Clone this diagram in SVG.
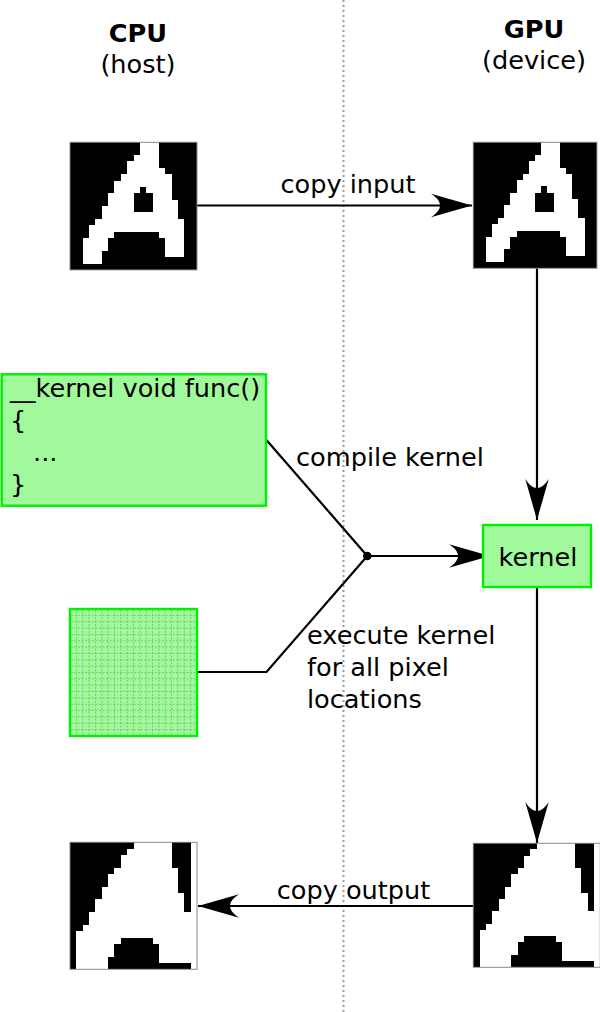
<svg xmlns="http://www.w3.org/2000/svg" xmlns:xlink="http://www.w3.org/1999/xlink" width="600" height="1012" viewBox="0 0 600 1012">
<style>
text{font-family:"DejaVu Sans","Liberation Sans",sans-serif;font-size:25.6px;fill:#000}
.b{font-weight:bold}
.mid{text-anchor:middle}
.box{fill:#a0fa9b;stroke:#00f000;stroke-width:2.4}
.wire{fill:none;stroke:#000;stroke-width:2.2}
.arr{marker-end:url(#ah)}
.grid line{stroke:#5a9a5a;stroke-width:0.7;stroke-dasharray:2 1.5;opacity:0.75}
.frame{fill:none;stroke:#888;stroke-width:1}
</style>
<defs>
<marker id="ah" markerUnits="userSpaceOnUse" viewBox="-43 -13 45 26" markerWidth="45" markerHeight="26" refX="0" refY="0" orient="auto">
<path d="M0,0 L-41,-11.7 C-29,-4 -29,4 -41,11.7 Z" fill="#000"/>
</marker>
<g id="glyphIn" shape-rendering="crispEdges">
<rect x="0" y="0" width="20" height="20" fill="#000"/>
<path fill="#fff" d="M11,0h3v2h-3z M10,2h4v1h-4z M9,3h5v1h-5z M9,4h6v1h-6z M8,5h8v1h-8z M7,6h9v1h-9z M7,7h4v1h-4z M12,7h4v1h-4z M6,8h4v2h-4z M13,8h3v1h-3z M13,9h4v2h-4z M5,10h5v1h-5z M5,11h12v1h-12z M4,12h14v1h-14z M3,13h15v1h-15z M3,14h4v1h-4z M14,14h4v1h-4z M2,15h4v2h-4z M15,15h3v3h-3z M2,17h3v2h-3z"/>
</g>
<g id="glyphOut" shape-rendering="crispEdges">
<rect x="0" y="0" width="20" height="20" fill="#fff"/>
<path fill="#000" d="M0,0h10v1h-10z M0,1h9v1h-9z M0,2h8v2h-8z M0,4h7v1h-7z M0,5h6v2h-6z M0,7h5v2h-5z M0,9h4v2h-4z M0,11h3v2h-3z M0,13h2v1h-2z M0,14h1v6h-1z M16,0h3v4h-3z M17,4h2v4h-2z M18,8h1v3h-1z M8,15h5v1h-5z M7,16h7v2h-7z M6,18h8v1h-8z M6,19h13v1h-13z"/>
</g>
</defs>
<rect width="600" height="1012" fill="#fff"/>
<line x1="343.5" y1="0" x2="343.5" y2="1012" stroke="#9a9a9a" stroke-width="2" stroke-dasharray="2 3"/>
<g id="header-cpu">
<text class="b mid" x="138" y="42">CPU</text>
<text class="mid" x="138" y="73">(host)</text>
</g>
<g id="header-gpu">
<text class="b mid" x="534" y="38">GPU</text>
<text class="mid" x="534" y="69">(device)</text>
</g>
<g id="connectors">
<path class="wire arr" d="M197,205.5 H472"/>
<path class="wire arr" d="M537,268 V520"/>
<path class="wire" d="M266,439.5 L367.3,556 M197,672 H266.5 L367.3,556"/>
<path class="wire arr" d="M367.3,556 H490"/>
<circle cx="367.3" cy="556" r="4.3" fill="#000"/>
<path class="wire arr" d="M537,587 V843"/>
<path class="wire arr" d="M473,906 H198"/>
<text class="mid" x="348" y="193">copy input</text>
<text x="296" y="466">compile kernel</text>
<text x="307" y="644">execute kernel</text>
<text x="307" y="676">for all pixel</text>
<text x="307" y="708">locations</text>
<text class="mid" x="353.5" y="899">copy output</text>
</g>
<g id="cpu-input">
<use xlink:href="#glyphIn" transform="translate(70,142.3) scale(6.35,6.38)"/>
<rect class="frame" x="70" y="142.3" width="127" height="127.6"/>
</g>
<g id="gpu-input">
<use xlink:href="#glyphIn" transform="translate(473.3,142.3) scale(6.18,6.3)"/>
<rect class="frame" x="473.3" y="142.3" width="123.6" height="126"/>
</g>
<g id="kernel-source">
<rect class="box" x="1.7" y="374.3" width="264.3" height="131.4"/>
<text x="10" y="396.5">__kernel void func()</text>
<text x="10" y="428.5">{</text>
<text x="33" y="460.5">...</text>
<text x="10" y="492.5">}</text>
</g>
<g id="pixel-grid">
<rect class="box" x="70" y="609" width="127" height="127"/>
<g class="grid">
<line x1="76.35" y1="610" x2="76.35" y2="735"/><line x1="82.7" y1="610" x2="82.7" y2="735"/><line x1="89.05" y1="610" x2="89.05" y2="735"/><line x1="95.4" y1="610" x2="95.4" y2="735"/><line x1="101.75" y1="610" x2="101.75" y2="735"/><line x1="108.1" y1="610" x2="108.1" y2="735"/><line x1="114.45" y1="610" x2="114.45" y2="735"/><line x1="120.8" y1="610" x2="120.8" y2="735"/><line x1="127.15" y1="610" x2="127.15" y2="735"/><line x1="133.5" y1="610" x2="133.5" y2="735"/><line x1="139.85" y1="610" x2="139.85" y2="735"/><line x1="146.2" y1="610" x2="146.2" y2="735"/><line x1="152.55" y1="610" x2="152.55" y2="735"/><line x1="158.9" y1="610" x2="158.9" y2="735"/><line x1="165.25" y1="610" x2="165.25" y2="735"/><line x1="171.6" y1="610" x2="171.6" y2="735"/><line x1="177.95" y1="610" x2="177.95" y2="735"/><line x1="184.3" y1="610" x2="184.3" y2="735"/><line x1="190.65" y1="610" x2="190.65" y2="735"/>
<line y1="615.35" x1="71" y2="615.35" x2="196"/><line y1="621.7" x1="71" y2="621.7" x2="196"/><line y1="628.05" x1="71" y2="628.05" x2="196"/><line y1="634.4" x1="71" y2="634.4" x2="196"/><line y1="640.75" x1="71" y2="640.75" x2="196"/><line y1="647.1" x1="71" y2="647.1" x2="196"/><line y1="653.45" x1="71" y2="653.45" x2="196"/><line y1="659.8" x1="71" y2="659.8" x2="196"/><line y1="666.15" x1="71" y2="666.15" x2="196"/><line y1="672.5" x1="71" y2="672.5" x2="196"/><line y1="678.85" x1="71" y2="678.85" x2="196"/><line y1="685.2" x1="71" y2="685.2" x2="196"/><line y1="691.55" x1="71" y2="691.55" x2="196"/><line y1="697.9" x1="71" y2="697.9" x2="196"/><line y1="704.25" x1="71" y2="704.25" x2="196"/><line y1="710.6" x1="71" y2="710.6" x2="196"/><line y1="716.95" x1="71" y2="716.95" x2="196"/><line y1="723.3" x1="71" y2="723.3" x2="196"/><line y1="729.65" x1="71" y2="729.65" x2="196"/>
</g>
</g>
<g id="kernel">
<rect class="box" x="483" y="525" width="108" height="62"/>
<text class="mid" x="538" y="566">kernel</text>
</g>
<g id="cpu-output">
<use xlink:href="#glyphOut" transform="translate(70,842.3) scale(6.35,6.35)"/>
<rect class="frame" x="70" y="842.3" width="127" height="127"/>
</g>
<g id="gpu-output">
<use xlink:href="#glyphOut" transform="translate(473.3,843.3) scale(6.35,6.2)"/>
<rect class="frame" x="473.3" y="843.3" width="127" height="124"/>
</g>
</svg>
